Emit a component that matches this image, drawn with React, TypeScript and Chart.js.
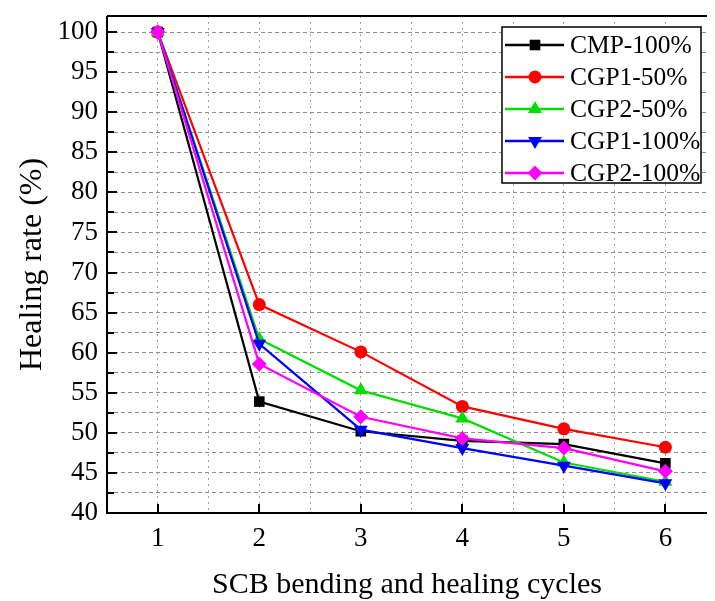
import React, { useEffect, useRef } from "react";
import { Chart, registerables } from "chart.js";

Chart.register(...registerables);

// ---- data ----
const cycles = [1, 2, 3, 4, 5, 6];
const cmp100 = [100, 53.9, 50.2, 49.0, 48.6, 46.2];
const cgp1_50 = [100, 66.0, 60.1, 53.3, 50.5, 48.2];
const cgp2_50 = [100, 61.7, 55.3, 51.8, 46.3, 43.9];
const cgp1_100 = [100, 61.1, 50.4, 48.1, 45.9, 43.7];
const cgp2_100 = [100, 58.6, 52.0, 49.3, 48.1, 45.2];

const seriesLabels = ["CMP-100%", "CGP1-50%", "CGP2-50%", "CGP1-100%", "CGP2-100%"];
const seriesValues = [cmp100, cgp1_50, cgp2_50, cgp1_100, cgp2_100];
const seriesColors = ["#000000", "#ff0000", "#00dd00", "#0000ff", "#ff00ff"];
const seriesPointStyles = ["rect", "circle", "triangle", "triangle", "rectRot"];
const seriesPointRotation = [0, 0, 0, 180, 0];
const seriesPointRadius = [7.5, 6.5, 8, 8, 7.5];

const xTickLabels = [1, 2, 3, 4, 5, 6];
const yTickValues = [40, 42.5, 45, 47.5, 50, 52.5, 55, 57.5, 60, 62.5, 65, 67.5, 70, 72.5, 75, 77.5, 80, 82.5, 85, 87.5, 90, 92.5, 95, 97.5, 100];

const xTitle = "SCB bending and healing cycles";
const yTitle = "Healing rate (%)";

const FONT = "'Liberation Serif', 'Times New Roman', serif";

function drawMarker(ctx: CanvasRenderingContext2D, style: string, x: number, y: number, r: number, rotDeg: number) {
  ctx.beginPath();
  if (style === "circle") {
    ctx.arc(x, y, r, 0, Math.PI * 2);
  } else if (style === "rect") {
    const s = Math.SQRT1_2 * r;
    ctx.rect(x - s, y - s, 2 * s, 2 * s);
  } else if (style === "rectRot") {
    ctx.moveTo(x - r, y);
    ctx.lineTo(x, y - r);
    ctx.lineTo(x + r, y);
    ctx.lineTo(x, y + r);
    ctx.closePath();
  } else if (style === "triangle") {
    let rad = (rotDeg * Math.PI) / 180;
    ctx.moveTo(x + Math.sin(rad) * r, y - Math.cos(rad) * r);
    rad += (2 * Math.PI) / 3;
    ctx.lineTo(x + Math.sin(rad) * r, y - Math.cos(rad) * r);
    rad += (2 * Math.PI) / 3;
    ctx.lineTo(x + Math.sin(rad) * r, y - Math.cos(rad) * r);
    ctx.closePath();
  }
  ctx.fill();
}

const decorPlugin = {
  id: "decor",
  beforeDatasetsDraw(chart: any) {
    const { ctx, chartArea: a, scales } = chart;
    const x = scales.x;
    const y = scales.y;
    ctx.save();
    ctx.setLineDash([]);
    ctx.strokeStyle = "#000";
    ctx.lineWidth = 2;
    // frame: left, bottom, top
    ctx.beginPath();
    ctx.moveTo(a.left, a.top);
    ctx.lineTo(a.left, a.bottom);
    ctx.lineTo(a.right, a.bottom);
    ctx.moveTo(a.left, a.top);
    ctx.lineTo(a.right, a.top);
    ctx.stroke();
    for (const v of yTickValues) {
      const py = Math.round(y.getPixelForValue(v));
      const len = v % 5 === 0 ? 10 : 7;
      ctx.beginPath();
      ctx.moveTo(a.left, py);
      ctx.lineTo(a.left + len, py);
      ctx.stroke();
    }
    for (const v of xTickLabels) {
      const px = Math.round(x.getPixelForValue(v));
      ctx.beginPath();
      ctx.moveTo(px, a.bottom);
      ctx.lineTo(px, a.bottom - 9);
      ctx.stroke();
    }
    ctx.restore();
  },
  afterDraw(chart: any) {
    const { ctx, chartArea: a } = chart;
    ctx.save();
    ctx.setLineDash([]);
    // legend box
    const bx = a.right - 205;
    const by = a.top + 11;
    const bw = 199;
    const bh = 156;
    ctx.fillStyle = "#fff";
    ctx.fillRect(bx, by, bw, bh);
    ctx.strokeStyle = "#000";
    ctx.lineWidth = 1.5;
    ctx.strokeRect(bx, by, bw, bh);
    ctx.font = `25.5px ${FONT}`;
    ctx.textBaseline = "middle";
    ctx.textAlign = "left";
    for (let i = 0; i < seriesLabels.length; i++) {
      const cy = by + 18 + i * 32;
      ctx.strokeStyle = seriesColors[i];
      ctx.fillStyle = seriesColors[i];
      ctx.lineWidth = 2.5;
      ctx.beginPath();
      ctx.moveTo(bx + 3, cy);
      ctx.lineTo(bx + 62, cy);
      ctx.stroke();
      drawMarker(ctx, seriesPointStyles[i], bx + 33, cy, seriesPointRadius[i], seriesPointRotation[i]);
      ctx.fillStyle = "#000";
      ctx.fillText(seriesLabels[i], bx + 68, cy + 1);
    }
    ctx.restore();
  },
};

export default function App() {
  const ref = useRef<HTMLCanvasElement | null>(null);
  useEffect(() => {
    document.body.style.margin = "0";
    document.body.style.overflow = "hidden";
    const canvas = ref.current;
    if (!canvas) return;
    const datasets = seriesLabels.map((label, i) => ({
      label,
      data: cycles.map((c, j) => ({ x: c, y: seriesValues[i][j] })),
      borderColor: seriesColors[i],
      backgroundColor: seriesColors[i],
      pointBackgroundColor: seriesColors[i],
      pointBorderColor: seriesColors[i],
      pointBorderWidth: 0,
      pointStyle: seriesPointStyles[i] as any,
      rotation: seriesPointRotation[i],
      pointRadius: seriesPointRadius[i],
      borderWidth: 2.2,
      tension: 0,
      order: seriesLabels.length - i,
    }));
    const chart = new Chart(canvas, {
      type: "line",
      data: { datasets },
      plugins: [decorPlugin],
      options: {
        animation: false,
        responsive: false,
        devicePixelRatio: 1,
        layout: { padding: { top: 16, right: 0, left: 0, bottom: 0 } },
        plugins: { legend: { display: false }, tooltip: { enabled: false } },
        scales: {
          x: {
            type: "linear",
            min: 0.5,
            max: 6.41,
            afterFit: (s: any) => {
              s.height = 88;
              s.paddingLeft = 0;
              s.paddingRight = 0;
              s.paddingTop = 0;
              s.paddingBottom = 0;
            },
            ticks: {
              stepSize: 0.5,
              includeBounds: false,
              autoSkip: false,
              maxRotation: 0,
              padding: 10,
              color: "#000",
              font: { family: FONT, size: 27 },
              callback: (v: any) => (Number.isInteger(v) && xTickLabels.includes(v) ? String(v) : ""),
            },
            grid: {
              color: "#a0a0a0",
              lineWidth: 1,
              drawTicks: false,
              tickLength: 0,
              borderDash: [2, 4],
            },
            border: { display: false, dash: [2, 4] },
            title: {
              display: true,
              text: xTitle,
              color: "#000",
              font: { family: FONT, size: 30, lineHeight: 1 },
              padding: { top: 0, bottom: 1 },
            },
          },
          y: {
            type: "linear",
            min: 40,
            max: 102,
            afterFit: (s: any) => {
              s.width = 107;
              s.paddingLeft = 0;
              s.paddingRight = 0;
              s.paddingTop = 0;
              s.paddingBottom = 0;
            },
            ticks: {
              stepSize: 2.5,
              includeBounds: false,
              autoSkip: false,
              padding: 9,
              color: "#000",
              font: { family: FONT, size: 27 },
              callback: (v: any) => (v % 5 === 0 ? String(v) : ""),
            },
            grid: {
              color: "#8c8c8c",
              lineWidth: 1,
              drawTicks: false,
              tickLength: 0,
              borderDash: [4, 3],
            },
            border: { display: false, dash: [4, 3] },
            title: {
              display: true,
              text: yTitle,
              color: "#000",
              font: { family: FONT, size: 32, lineHeight: 1 },
              padding: { top: 17, bottom: 0 },
            },
          },
        },
      } as any,
    });
    return () => chart.destroy();
  }, []);
  return (
    <div style={{ position: "absolute", left: 0, top: 0, width: 715, height: 601 }}>
      <canvas ref={ref} width={715} height={601} />
    </div>
  );
}
